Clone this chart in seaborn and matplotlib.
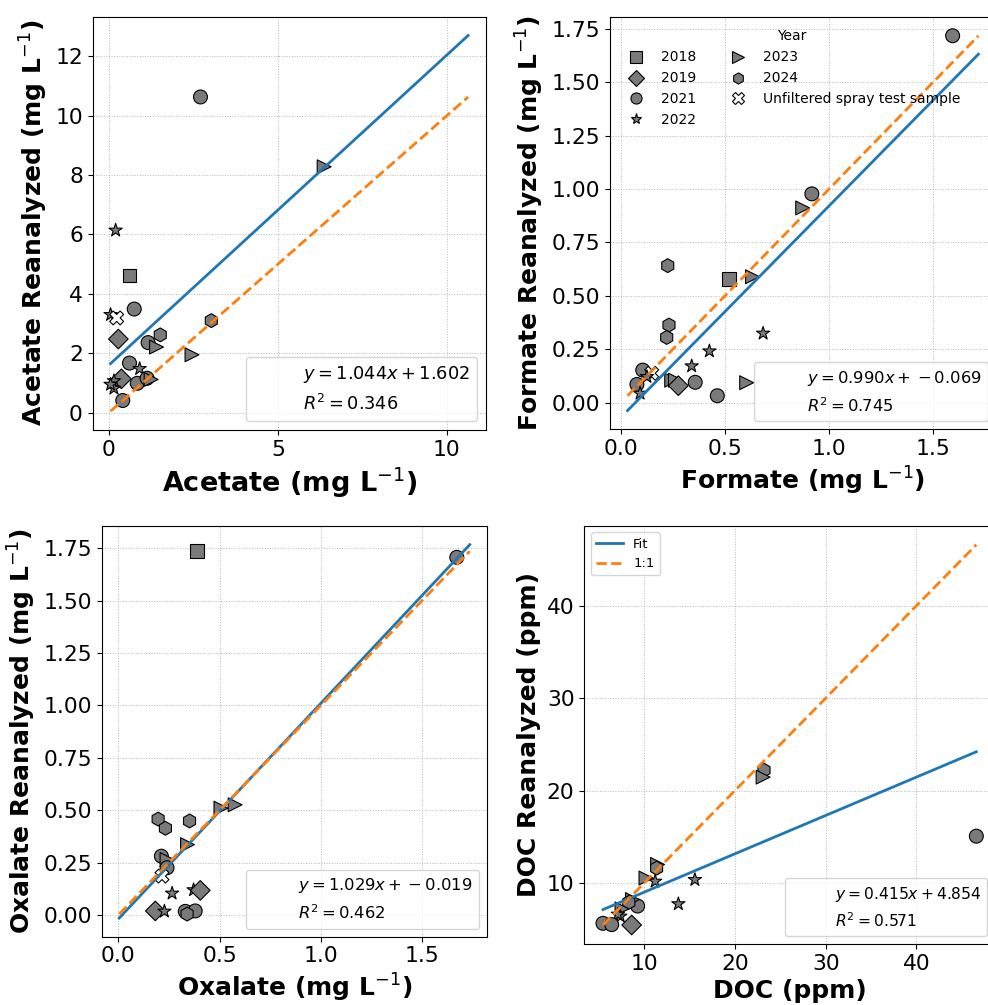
import numpy as np
import pandas as pd
import matplotlib
matplotlib.use("Agg")
import matplotlib.pyplot as plt
from matplotlib.lines import Line2D
from matplotlib.ticker import MultipleLocator
import seaborn as sns

UNF = "Unfiltered spray test sample"
YEARS = ["2018", "2019", "2021", "2022", "2023", "2024", UNF]
MARKERS = {"2018": "s", "2019": "D", "2021": "o", "2022": "*",
           "2023": ">", "2024": "h", UNF: "X"}
FILLS = {y: "#7a7a7a" for y in YEARS}
FILLS[UNF] = "white"

# --- acetate (mg/L) ---
acetate_x = [0.20, 0.61, 0.75, 0.05, 0.23, 0.28, 3.03, 1.52, 1.16, 1.41, 2.46,
             0.61, 0.91, 0.37, 0.15, 0.15, 0.05, 0.84, 1.13, 1.25, 0.41, 2.71, 6.37]
acetate_y = [6.14, 4.62, 3.49, 3.30, 3.19, 2.48, 3.10, 2.62, 2.36, 2.21, 1.95,
             1.67, 1.48, 1.14, 1.07, 0.82, 0.95, 0.99, 1.16, 1.12, 0.41, 10.63, 8.28]
acetate_year = ["2022", "2018", "2021", "2022", UNF, "2019", "2024", "2024", "2021", "2023", "2023",
                "2021", "2022", "2019", "2022", "2022", "2022", "2021", "2021", "2023", "2021", "2021", "2023"]

# --- formate (mg/L) ---
formate_x = [0.225, 0.52, 0.632, 0.231, 0.22, 0.683, 0.425, 0.34, 0.105, 0.148, 0.125,
             0.077, 0.092, 0.244, 0.262, 0.276, 0.357, 0.463, 0.604, 0.873, 0.917, 1.593]
formate_y = [0.641, 0.578, 0.589, 0.363, 0.305, 0.324, 0.241, 0.171, 0.152, 0.137, 0.121,
             0.085, 0.043, 0.105, 0.105, 0.079, 0.095, 0.032, 0.093, 0.911, 0.977, 1.717]
formate_year = ["2024", "2018", "2023", "2024", "2024", "2022", "2022", "2022", "2021", UNF, "2022",
                "2021", "2022", "2023", "2023", "2019", "2021", "2021", "2023", "2023", "2021", "2021"]

# --- oxalate (mg/L) ---
oxalate_x = [0.197, 0.233, 0.352, 0.507, 0.577, 0.342, 0.213, 0.241, 0.241, 0.216,
             0.266, 0.372, 0.405, 0.183, 0.228, 0.331, 0.380, 0.340, 0.39, 1.671]
oxalate_y = [0.458, 0.414, 0.449, 0.510, 0.526, 0.336, 0.281, 0.265, 0.226, 0.186,
             0.104, 0.120, 0.118, 0.020, 0.018, 0.018, 0.020, 0.005, 1.735, 1.706]
oxalate_year = ["2024", "2024", "2024", "2023", "2023", "2023", "2021", "2023", "2021", UNF,
                "2022", "2022", "2019", "2019", "2022", "2021", "2021", "2024", "2018", "2021"]

# --- DOC (ppm) ---
doc_x = [11.47, 11.36, 10.19, 11.2, 15.58, 13.76, 9.27, 8.7, 8.3, 7.55, 7.36, 7.1,
         5.45, 6.41, 8.61, 23.2, 23.1, 46.6]
doc_y = [12.0, 11.6, 10.53, 10.17, 10.35, 7.73, 7.5, 8.2, 7.9, 7.19, 6.39, 6.6,
         5.63, 5.49, 5.45, 22.2, 21.45, 15.06]
doc_year = ["2023", "2024", "2023", "2022", "2022", "2022", "2021", "2023", "2024", "2023", "2022", "2022",
            "2021", "2021", "2019", "2024", "2023", "2021"]

fit_slope = [1.044, 0.990, 1.029, 0.415]
fit_intercept = [1.602, -0.069, -0.019, 4.854]
fit_r2 = [0.346, 0.745, 0.462, 0.571]

plt.rcParams.update({
    "font.family": "DejaVu Sans",
    "xtick.labelsize": 15.7,
    "ytick.labelsize": 15.7,
})


def plot_panel(ax, x, y, year, slope, intercept, r2, xlabel, ylabel, xstep, ystep, xlabel_size=18):
    df = pd.DataFrame({"x": x, "y": y, "year": year})
    sns.scatterplot(data=df, x="x", y="y", hue="year", style="year",
                    hue_order=YEARS, style_order=YEARS, palette=FILLS, markers=MARKERS,
                    s=100, edgecolor="black", linewidth=0.8, legend=False, zorder=2, ax=ax)

    lo = min(df["x"].min(), df["y"].min())
    hi = max(df["x"].max(), df["y"].max())
    xs = np.array([lo, hi])
    sns.lineplot(x=xs, y=slope * xs + intercept, color="#1f77b4", lw=2, zorder=3, ax=ax)
    sns.lineplot(x=xs, y=xs, color="#ff7f0e", lw=2, linestyle="--", zorder=4, ax=ax)

    ax.grid(True, linestyle=":", linewidth=0.7, color="#b8b8b8")
    ax.set_axisbelow(True)
    ax.xaxis.set_major_locator(MultipleLocator(xstep))
    ax.yaxis.set_major_locator(MultipleLocator(ystep))
    ax.set_xlabel(xlabel, fontsize=xlabel_size, fontweight="bold")
    ax.set_ylabel(ylabel, fontsize=18, fontweight="bold")

    blank = [Line2D([], [], color="none"), Line2D([], [], color="none")]
    return blank, [f"$y = {slope:.3f}x + {intercept:.3f}$", f"$R^2 = {r2:.3f}$"]


W, H = 988, 1005
fig = plt.figure(figsize=(W / 100, H / 100), dpi=100)


def box(left, top, right, bottom):
    return [left / W, 1 - bottom / H, (right - left) / W, (bottom - top) / H]


ax1 = fig.add_axes(box(92.7, 16.7, 486, 430))
ax2 = fig.add_axes(box(610, 17, 996, 429.3))
ax3 = fig.add_axes(box(101.7, 526, 487.3, 936.7))
ax4 = fig.add_axes(box(584.3, 525.7, 995, 944))

h, l = plot_panel(ax1, acetate_x, acetate_y, acetate_year, fit_slope[0], fit_intercept[0], fit_r2[0],
                  "Acetate (mg L$^{-1}$)", "Acetate Reanalyzed (mg L$^{-1}$)", 5, 2, xlabel_size=19.5)
ax1.legend(h, l, loc="lower right", fontsize=12.8)

h, l = plot_panel(ax2, formate_x, formate_y, formate_year, fit_slope[1], fit_intercept[1], fit_r2[1],
                  "Formate (mg L$^{-1}$)", "Formate Reanalyzed (mg L$^{-1}$)", 0.5, 0.25)
year_handles = [Line2D([], [], marker=MARKERS[yr], linestyle="none", markersize=8,
                       markerfacecolor=FILLS[yr], markeredgecolor="black", markeredgewidth=0.8)
                for yr in YEARS]
leg = ax2.legend(year_handles, YEARS, title="Year", ncol=2, loc="upper left",
                 frameon=False, fontsize=10, title_fontsize=10)
ax2.add_artist(leg)
ax2.legend(h, l, loc="lower right", fontsize=11.8)

h, l = plot_panel(ax3, oxalate_x, oxalate_y, oxalate_year, fit_slope[2], fit_intercept[2], fit_r2[2],
                  "Oxalate (mg L$^{-1}$)", "Oxalate Reanalyzed (mg L$^{-1}$)", 0.5, 0.25)
ax3.legend(h, l, loc="lower right", fontsize=11.8)

h, l = plot_panel(ax4, doc_x, doc_y, doc_year, fit_slope[3], fit_intercept[3], fit_r2[3],
                  "DOC (ppm)", "DOC Reanalyzed (ppm)", 10, 10)
line_handles = [Line2D([], [], color="#1f77b4", lw=2),
                Line2D([], [], color="#ff7f0e", lw=2, linestyle="--")]
leg = ax4.legend(line_handles, ["Fit", "1:1"], loc="upper left", fontsize=9.5)
ax4.add_artist(leg)
ax4.legend(h, l, loc="lower right", fontsize=11.2)

fig.savefig("out.png", dpi=100)
